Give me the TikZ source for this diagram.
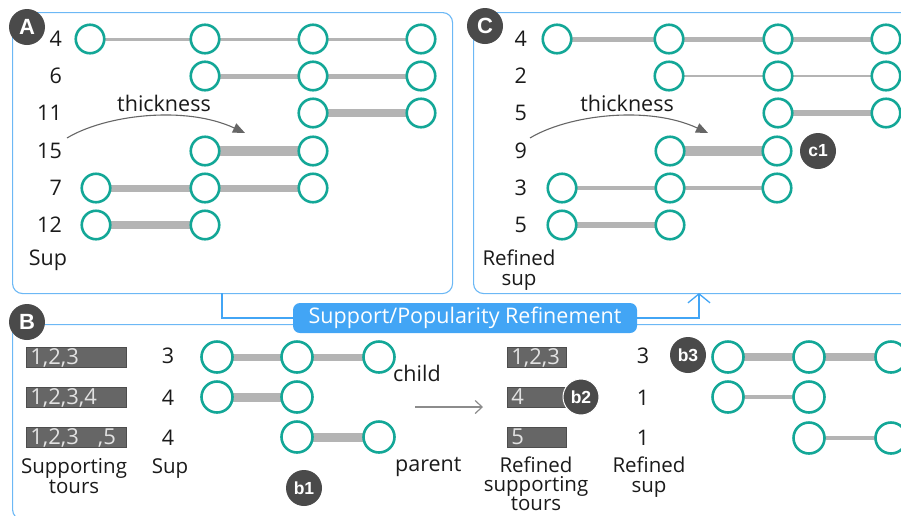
\documentclass[tikz,border=0pt]{standalone}
\usepackage{fontspec}
\setmainfont{Open Sans}
\newfontfamily\badgefont{Liberation Sans}
\usetikzlibrary{arrows.meta}

\definecolor{tourteal}{HTML}{13A797}
\definecolor{linkgray}{HTML}{B4B4B4}
\definecolor{badgegray}{HTML}{4A4A4A}
\definecolor{panelblue}{HTML}{6CB8F5}
\definecolor{bannerblue}{HTML}{42A5F5}
\definecolor{barfill}{HTML}{666666}
\definecolor{bardraw}{HTML}{4D4D4D}
\definecolor{bartext}{HTML}{E2E2E2}
\definecolor{inkblack}{HTML}{1A1A1A}
\definecolor{arrowgray}{HTML}{666666}
\definecolor{movegray}{HTML}{8C8C8C}

\pgfdeclarelayer{bg}
\pgfsetlayers{bg,main}

\begin{document}
\begin{tikzpicture}[x=1pt,y=-1pt,
  stop/.style={circle, draw=tourteal, line width=2.6pt, fill=white, minimum size=28.5pt, inner sep=0pt},
  bigstop/.style={stop, minimum size=31pt},
  link/.style={draw=linkgray, line width=#1},
  lbl/.style={inner sep=0pt, text=inkblack, font=\fontsize{21.5}{24}\selectfont},
  caption/.style={inner sep=0pt, text=inkblack, font=\fontsize{20.5}{22}\selectfont, anchor=base},
  badge/.style={circle, fill=badgegray, text=white, inner sep=0pt, minimum size=36pt,
    font=\badgefont\bfseries\fontsize{22}{22}\selectfont},
  minibadge/.style={badge, font=\badgefont\bfseries\fontsize{17.5}{17.5}\selectfont},
  panelbox/.style={draw=panelblue, line width=1.1pt, rounded corners=10pt, inner sep=0pt, anchor=north west},
  banner/.style={fill=bannerblue, text=white, rounded corners=7pt, inner sep=0pt,
    minimum width=344pt, minimum height=30pt, font=\fontsize{21.5}{24}\selectfont},
  flow/.style={draw=bannerblue, line width=1.3pt},
  thickarrow/.style={draw=arrowgray, line width=1.1pt, -{Triangle[length=12pt,width=10pt]}},
  tourbar/.style={draw=bardraw, fill=barfill, text=bartext, line width=0.8pt, inner xsep=4pt, inner ysep=0pt,
    minimum height=20pt, align=left, text height=15.5pt, text depth=0pt, anchor=west,
    font=\fontsize{22}{24}\selectfont},
]
\useasboundingbox (0,0) rectangle (901,515);
\clip (0,0) rectangle (901,515);

% ---------- panels ----------
\node[panelbox, minimum width=440pt, minimum height=281pt] (panA) at (12,12) {};
\node[panelbox, minimum width=470pt, minimum height=281pt] (panC) at (473,12) {};
\node[panelbox, minimum width=930pt, minimum height=195pt] (panB) at (12,324) {};

% ---------- refinement flow ----------
\coordinate (aout) at (222,293);
\coordinate (cin) at (699,293);
\node[banner] (banner) at (465,318) {Support/Popularity Refinement};
\draw[flow] (aout) |- (banner.west);
\draw[flow, -{Straight Barb[length=9pt,width=22pt,line width=1.3pt]}] (banner.east) -| (cin);

% ---------- panel A: support ----------
\node[badge] (bA) at (27,27) {A};

\node[lbl, anchor=base east] (na1) at (62,46.7) {4};
\node[lbl, anchor=base east] (na2) at (62,83.7) {6};
\node[lbl, anchor=base east] (na3) at (62,120.7) {11};
\node[lbl, anchor=base east] (na4) at (62,158.7) {15};
\node[lbl, anchor=base east] (na5) at (62,195.7) {7};
\node[lbl, anchor=base east] (na6) at (62,232.7) {12};
\node[lbl, anchor=base] (supA) at (48,265.5) {Sup};

\node[stop] (a1a) at (90,39) {};  \node[stop] (a1b) at (205,39) {};
\node[stop] (a1c) at (313,39) {}; \node[stop] (a1d) at (421,39) {};
\node[stop] (a2b) at (205,76) {}; \node[stop] (a2c) at (313,76) {}; \node[stop] (a2d) at (421,76) {};
\node[stop] (a3c) at (313,113) {}; \node[stop] (a3d) at (421,113) {};
\node[stop] (a4b) at (205,151) {}; \node[stop] (a4c) at (313,151) {};
\node[stop] (a5a) at (96,188) {}; \node[stop] (a5b) at (205,188) {}; \node[stop] (a5c) at (313,188) {};
\node[stop] (a6a) at (96,225) {}; \node[stop] (a6b) at (205,225) {};

\begin{pgfonlayer}{bg}
\draw[link=3pt] (a1a.center) -- (a1b.center) -- (a1c.center) -- (a1d.center);
\draw[link=5pt] (a2b.center) -- (a2c.center) -- (a2d.center);
\draw[link=7.5pt] (a3c.center) -- (a3d.center);
\draw[link=10.5pt] (a4b.center) -- (a4c.center);
\draw[link=7pt] (a5a.center) -- (a5b.center) -- (a5c.center);
\draw[link=8.5pt] (a6a.center) -- (a6b.center);
\end{pgfonlayer}

\node[lbl, anchor=base] (thA) at (164,111) {thickness};
\coordinate (thAfrom) at (67,138);
\coordinate (thAto) at (245,133);
\draw[thickarrow] (thAfrom) .. controls (105,115) and (185,105) .. (thAto);

% ---------- panel C: refined support ----------
\node[badge] (bC) at (485,26) {C};

\node[lbl, anchor=base east] (nc1) at (527,46.7) {4};
\node[lbl, anchor=base east] (nc2) at (527,83.7) {2};
\node[lbl, anchor=base east] (nc3) at (527,120.7) {5};
\node[lbl, anchor=base east] (nc4) at (527,158.7) {9};
\node[lbl, anchor=base east] (nc5) at (527,195.7) {3};
\node[lbl, anchor=base east] (nc6) at (527,232.7) {5};
\node[caption] (refC1) at (519,265) {Refined};
\node[caption] (refC2) at (519,285.5) {sup};

\node[stop] (c1a) at (557,39) {}; \node[stop] (c1b) at (669,39) {};
\node[stop] (c1c) at (778,39) {}; \node[stop] (c1d) at (886,39) {};
\node[stop] (c2b) at (669,76) {}; \node[stop] (c2c) at (778,76) {}; \node[stop] (c2d) at (886,76) {};
\node[stop] (c3c) at (778,113) {}; \node[stop] (c3d) at (886,113) {};
\node[stop] (c4b) at (670,151) {}; \node[stop] (c4c) at (777,151) {};
\node[stop] (c5a) at (562,188) {}; \node[stop] (c5b) at (670,188) {}; \node[stop] (c5c) at (777,188) {};
\node[stop] (c6a) at (562,225) {}; \node[stop] (c6b) at (670,225) {};

\begin{pgfonlayer}{bg}
\draw[link=5pt] (c1a.center) -- (c1b.center) -- (c1c.center) -- (c1d.center);
\draw[link=2.2pt] (c2b.center) -- (c2c.center) -- (c2d.center);
\draw[link=6pt] (c3c.center) -- (c3d.center);
\draw[link=10.5pt] (c4b.center) -- (c4c.center);
\draw[link=3.3pt] (c5a.center) -- (c5b.center) -- (c5c.center);
\draw[link=6pt] (c6a.center) -- (c6b.center);
\end{pgfonlayer}

\node[minibadge] (mc1) at (818,151) {c1};

\node[lbl, anchor=base] (thC) at (627,111) {thickness};
\coordinate (thCfrom) at (530,138);
\coordinate (thCto) at (708,133);
\draw[thickarrow] (thCfrom) .. controls (568,115) and (648,105) .. (thCto);

% ---------- panel B: refinement of one pattern ----------
\node[badge] (bB) at (27,322) {B};

\node[tourbar, text width=92pt] (st1) at (26,357) {1,2,3};
\node[tourbar, text width=92pt] (st2) at (26,397) {1,2,3,4};
\node[tourbar, text width=92pt] (st3) at (26,437) {1,2,3\hspace{19pt},5};
\node[caption] (stl1) at (74,473) {Supporting};
\node[caption] (stl2) at (74,493.5) {tours};

\node[lbl, anchor=base] (sp1) at (168,363.5) {3};
\node[lbl, anchor=base] (sp2) at (168,405) {4};
\node[lbl, anchor=base] (sp3) at (168,445.5) {4};
\node[caption] (spl) at (170,473) {Sup};

\node[bigstop] (p1a) at (217,357) {}; \node[bigstop] (p1b) at (297,357) {}; \node[bigstop] (p1c) at (379,357) {};
\node[bigstop] (p2a) at (217,397) {}; \node[bigstop] (p2b) at (297,397) {};
\node[bigstop] (p3b) at (297,437) {}; \node[bigstop] (p3c) at (379,437) {};
\begin{pgfonlayer}{bg}
\draw[link=7pt] (p1a.center) -- (p1b.center) -- (p1c.center);
\draw[link=9pt] (p2a.center) -- (p2b.center);
\draw[link=9pt] (p3b.center) -- (p3c.center);
\end{pgfonlayer}
\node[lbl, anchor=base west] (child) at (393,381) {child};
\node[lbl, anchor=base west] (parent) at (395,471) {parent};
\node[minibadge] (mb1) at (304,488) {b1};

\coordinate (mvfrom) at (415,407);
\coordinate (mvto) at (483,407);
\draw[draw=movegray, line width=1.2pt, -{Straight Barb[length=7pt,width=13pt,line width=1.2pt]}] (mvfrom) -- (mvto);

\node[tourbar, text width=51pt] (rt1) at (507,357) {1,2,3};
\node[tourbar, text width=51pt] (rt2) at (507,397) {4};
\node[tourbar, text width=51pt] (rt3) at (507,437) {5};
\node[minibadge, draw=white, line width=1pt] (mb2) at (581,397) {b2};
\node[caption] (rtl1) at (536,472) {Refined};
\node[caption] (rtl2) at (536,491.5) {supporting};
\node[caption] (rtl3) at (536,510.5) {tours};

\node[lbl, anchor=base] (rs1) at (643,363.5) {3};
\node[lbl, anchor=base] (rs2) at (643,405) {1};
\node[lbl, anchor=base] (rs3) at (643,445.5) {1};
\node[caption] (rsl1) at (649,472) {Refined};
\node[caption] (rsl2) at (649,492) {sup};

\node[minibadge] (mb3) at (688,355) {b3};
\node[bigstop] (q1a) at (728,357) {}; \node[bigstop] (q1b) at (809,357) {}; \node[bigstop] (q1c) at (891,357) {};
\node[bigstop] (q2a) at (728,397) {}; \node[bigstop] (q2b) at (809,397) {};
\node[bigstop] (q3b) at (809,438) {}; \node[bigstop] (q3c) at (891,438) {};
\begin{pgfonlayer}{bg}
\draw[link=7.5pt] (q1a.center) -- (q1b.center) -- (q1c.center);
\draw[link=4pt] (q2a.center) -- (q2b.center);
\draw[link=4pt] (q3b.center) -- (q3c.center);
\end{pgfonlayer}
\end{tikzpicture}
\end{document}
